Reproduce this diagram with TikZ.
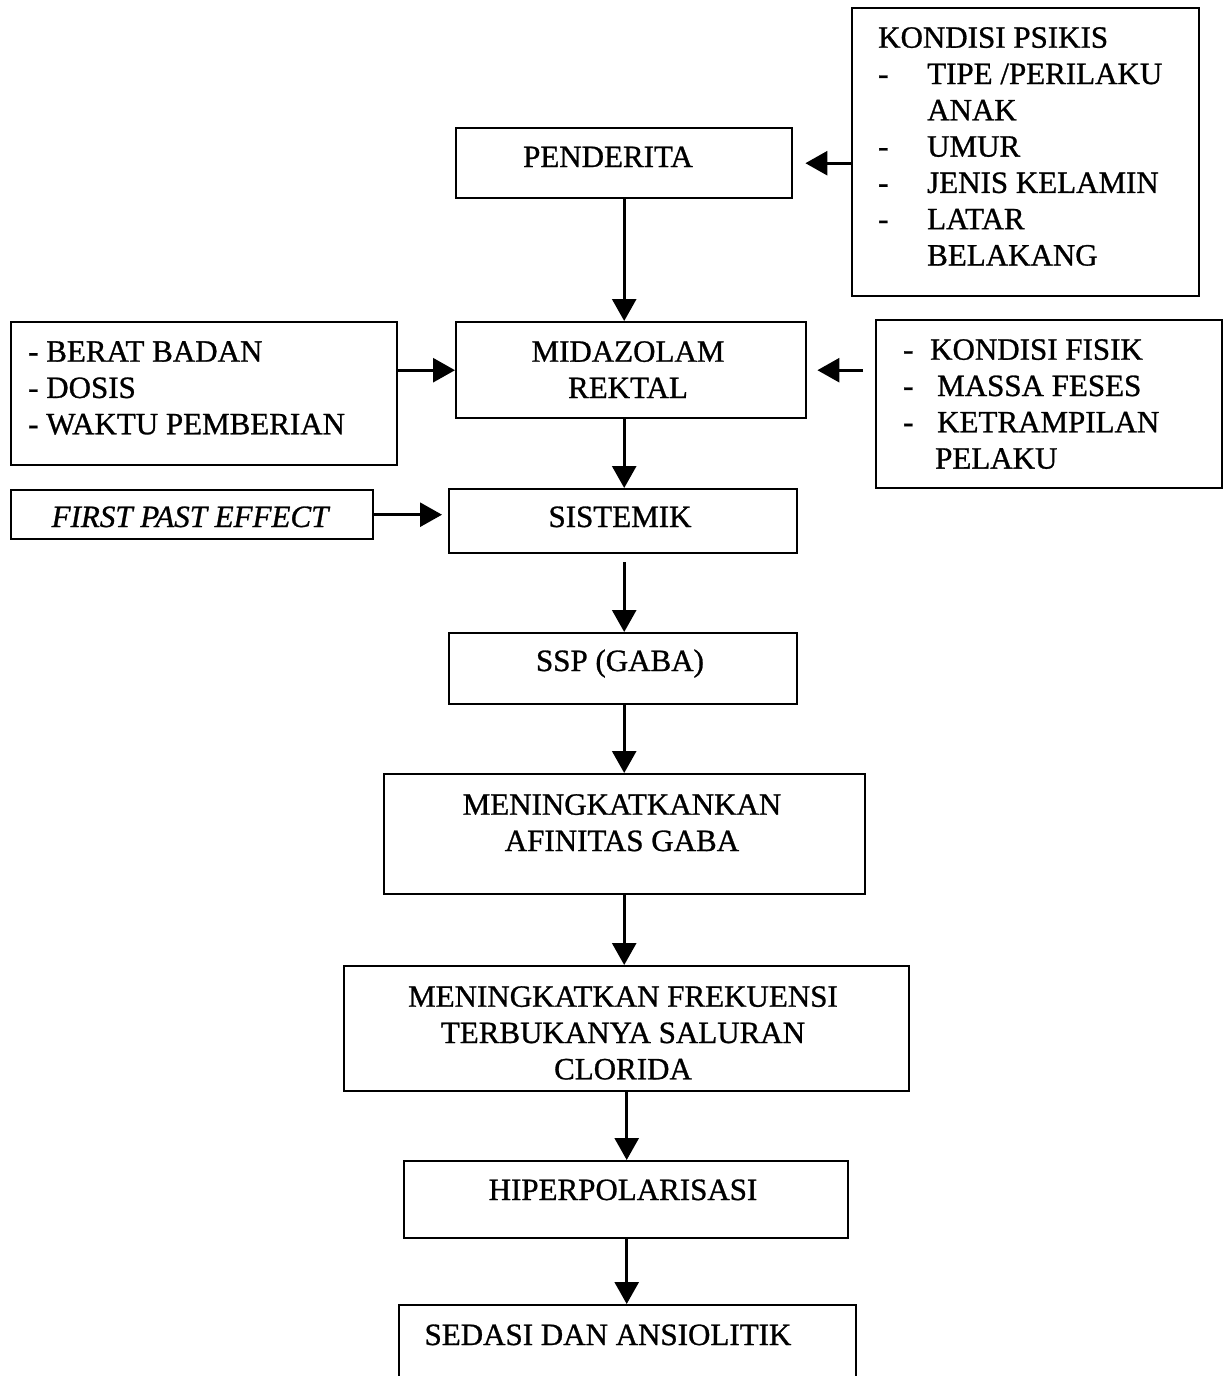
\documentclass[tikz,border=0pt]{standalone}
\usepackage{fontspec}
\setmainfont{Liberation Serif}[FakeBold=0.9]
\usetikzlibrary{arrows.meta}

% a rectangle given by its top-left and bottom-right corners
\newcommand\flowbox[5]{%
  \node[boxshape, anchor=north west,
        minimum width={(#4-#2)*1pt}, minimum height={(#5-#3)*1pt}] (#1) at (#2,#3) {};}
\newcommand\dsh[1]{\makebox[#1][l]{-}}

\begin{document}
\begin{tikzpicture}[x=1pt, y=-1pt,
  boxshape/.style={draw=black, line width=2.4pt, fill=none, inner sep=0pt},
  txt/.style={inner sep=0pt, font=\fontsize{31}{36.3}\selectfont},
  arr/.style={draw=black, line width=2.8pt, -{Triangle[length=22pt, width=24pt]}}]

\useasboundingbox (0,0) rectangle (1225,1376);
\fill[white] (0,0) rectangle (1225,1376);
\clip (0,0) rectangle (1225,1376);

% boxes
\flowbox{psikis}{851}{7}{1198}{295}
\flowbox{pend}{455}{127}{791}{197}
\flowbox{berat}{10}{321}{396}{464}
\flowbox{mid}{455}{321}{805}{417}
\flowbox{fisik}{875}{319}{1221}{487}
\flowbox{first}{10}{489}{372}{538}
\flowbox{sist}{448}{488}{796}{552}
\flowbox{ssp}{448}{632}{796}{703}
\flowbox{afin}{383}{773}{864}{893}
\flowbox{frek}{343}{965}{908}{1090}
\flowbox{hiper}{403}{1160}{847}{1237}
\flowbox{sed}{398}{1304}{855}{1420}

% texts
\node[txt, anchor=north west, align=left] (psikistext) at (878,27)
  {KONDISI PSIKIS\\
   \dsh{49pt}TIPE /PERILAKU\\
   \hspace*{49pt}ANAK\\
   \dsh{49pt}UMUR\\
   \dsh{49pt}JENIS KELAMIN\\
   \dsh{49pt}LATAR\\
   \hspace*{49pt}BELAKANG};
\node[txt, anchor=base] (pendtext) at (608,167) {PENDERITA};
\node[txt, anchor=north west, align=left] (berattext) at (28,341)
  {- BERAT BADAN\\ - DOSIS\\ - WAKTU PEMBERIAN};
\node[txt, anchor=north, align=center] (midtext) at (628,341)
  {MIDAZOLAM\\ REKTAL};
\node[txt, anchor=north west, align=left] (fisiktext) at (903,339)
  {\dsh{27pt}KONDISI FISIK\\
   \dsh{34pt}MASSA FESES\\
   \dsh{34pt}KETRAMPILAN\\
   \hspace*{32pt}PELAKU};
\node[txt, anchor=base, font=\fontsize{31}{36.3}\selectfont\itshape] (firsttext) at (190,527) {FIRST PAST EFFECT};
\node[txt, anchor=base] (sisttext) at (620,527) {SISTEMIK};
\node[txt, anchor=base] (ssptext) at (620,671) {SSP (GABA)};
\node[txt, anchor=north, align=center] (afintext) at (622,794)
  {MENINGKATKANKAN\\ AFINITAS GABA};
\node[txt, anchor=north, align=center] (frektext) at (623,986)
  {MENINGKATKAN FREKUENSI\\ TERBUKANYA SALURAN\\ CLORIDA};
\node[txt, anchor=base] (hipertext) at (623,1200) {HIPERPOLARISASI};
\node[txt, anchor=base] (sedtext) at (608,1345) {SEDASI DAN ANSIOLITIK};

% side arrows
\draw[arr, shorten >=12pt] (psikis.west |- pend.east) -- (pend.east);
\draw[arr] (berat.east |- mid.west) -- (mid.west);
\draw[arr, shorten <=12pt, shorten >=10pt] (fisik.west |- mid.east) -- (mid.east);
\draw[arr, shorten >=6pt] (first.east) -- (first.east -| sist.west);

% main chain
\draw[arr] (pend.south) -- (pend.south |- mid.north);
\draw[arr] (pend.south |- mid.south) -- (pend.south |- sist.north);
\draw[arr, shorten <=8pt] (pend.south |- sist.south) -- (pend.south |- ssp.north);
\draw[arr] (pend.south |- ssp.south) -- (pend.south |- afin.north);
\draw[arr] (pend.south |- afin.south) -- (pend.south |- frek.north);
\draw[arr] (frek.south) -- (frek.south |- hiper.north);
\draw[arr] (frek.south |- hiper.south) -- (frek.south |- sed.north);
\end{tikzpicture}
\end{document}
